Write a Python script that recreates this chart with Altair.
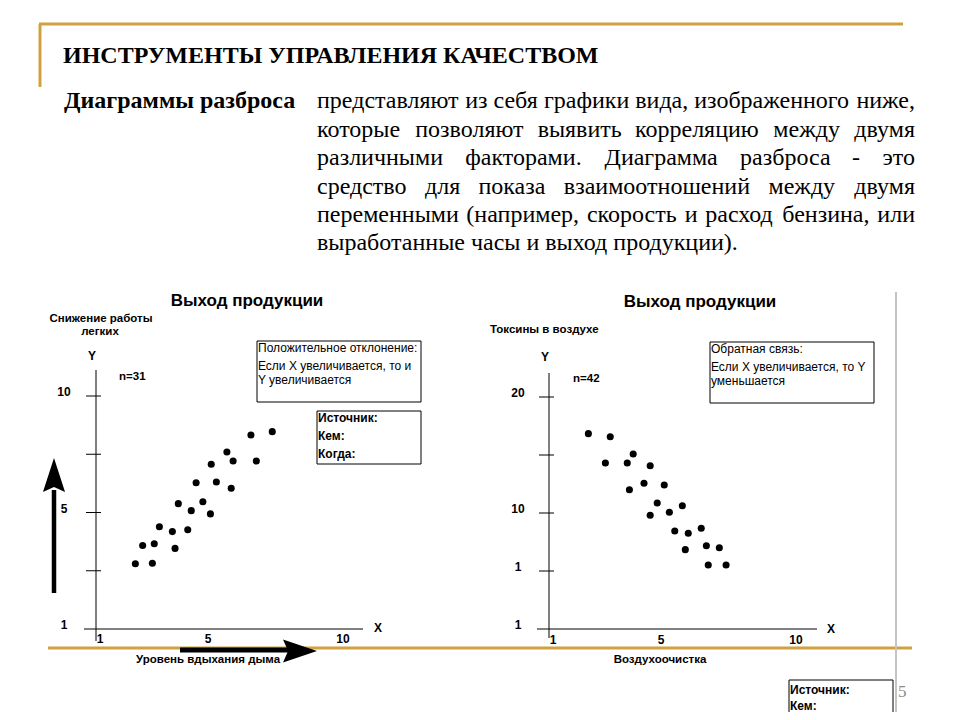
import glob
import os
import struct

import altair as alt
import pandas as pd

# ---------------- data ----------------
# Left scatter: "Уровень вдыхания дыма" (X) vs "Снижение работы легких" (Y)
left_x = [2.31, 2.58, 2.94, 3.01, 3.20, 3.68, 3.78, 3.90, 4.25, 4.38, 4.56,
          4.81, 5.09, 5.12, 5.31, 5.70, 5.86, 5.93, 6.59, 6.79, 7.38]
left_y = [2.80, 3.58, 2.82, 3.66, 4.39, 4.18, 3.46, 5.38, 4.26, 5.08, 6.28,
          5.46, 4.94, 7.07, 6.31, 7.60, 6.04, 7.21, 8.33, 7.21, 8.47]

# Right scatter: "Воздухоочистка" (X) vs "Токсины в воздухе" (Y)
right_x = [2.31, 3.12, 2.94, 3.75, 3.97, 4.60, 3.83, 4.37, 5.12, 4.86, 4.60,
           5.31, 5.79, 5.51, 6.01, 6.49, 5.90, 6.68, 7.16, 6.75, 7.41]
right_y = [16.84, 16.58, 14.31, 14.31, 15.09, 14.08, 12.01, 12.56, 12.41, 10.86, 9.80,
           10.06, 10.63, 8.45, 8.25, 8.68, 6.84, 7.18, 7.01, 5.52, 5.52]

left_ytick_values = [2.5, 5, 7.5, 10]
left_ylabel_values = [10, 5, 0]
left_ylabel_texts = ["10", "5", "1"]
right_ytick_values = [5, 10, 15, 20]
right_ylabel_values = [20, 10, 5, 0]
right_ylabel_texts = ["20", "10", "1", "1"]
xlabel_values = [1, 5, 10]
xlabel_texts = ["1", "5", "10"]

body_text_lines = [
    "представляют из себя графики вида, изображенного ниже,",
    "которые позволяют выявить корреляцию между двумя",
    "различными факторами. Диаграмма разброса - это",
    "средство для показа взаимоотношений между двумя",
    "переменными (например, скорость и расход бензина, или",
    "выработанные часы и выход продукции).",
]

# ---------------- font metrics (for justified paragraph) ----------------
BODY_SIZE = 24


def load_width_fn(pattern):
    paths = []
    for d in ["/usr/share/fonts", "/usr/local/share/fonts",
              os.path.expanduser("~/.fonts"), os.path.expanduser("~/.local/share/fonts")]:
        paths += glob.glob(os.path.join(d, "**", pattern), recursive=True)
    if not paths:
        return None
    try:
        data = open(paths[0], "rb").read()
        num_tables = struct.unpack(">H", data[4:6])[0]
        tables = {}
        for i in range(num_tables):
            off = 12 + 16 * i
            tag = data[off:off + 4].decode("latin1")
            _, toff, tlen = struct.unpack(">III", data[off + 4:off + 16])
            tables[tag] = toff
        head = tables["head"]
        upem = struct.unpack(">H", data[head + 18:head + 20])[0]
        hhea = tables["hhea"]
        num_hm = struct.unpack(">H", data[hhea + 34:hhea + 36])[0]
        hmtx = tables["hmtx"]
        adv = [struct.unpack(">H", data[hmtx + 4 * i:hmtx + 4 * i + 2])[0] for i in range(num_hm)]
        cmap = tables["cmap"]
        nsub = struct.unpack(">H", data[cmap + 2:cmap + 4])[0]
        cmap_d = {}
        for i in range(nsub):
            pid, eid, soff = struct.unpack(">HHI", data[cmap + 4 + 8 * i:cmap + 12 + 8 * i])
            sub = cmap + soff
            fmt = struct.unpack(">H", data[sub:sub + 2])[0]
            if fmt == 4 and pid == 3 and eid == 1:
                seg2 = struct.unpack(">H", data[sub + 6:sub + 8])[0]
                n = seg2 // 2
                ends = struct.unpack(">%dH" % n, data[sub + 14:sub + 14 + seg2])
                so = sub + 16 + seg2
                starts = struct.unpack(">%dH" % n, data[so:so + seg2])
                do = so + seg2
                deltas = struct.unpack(">%dh" % n, data[do:do + seg2])
                ro = do + seg2
                ros = struct.unpack(">%dH" % n, data[ro:ro + seg2])
                for s in range(n):
                    if starts[s] > 0x4FF:
                        continue
                    for c in range(starts[s], min(ends[s], 0x4FF) + 1):
                        if ros[s] == 0:
                            g = (c + deltas[s]) & 0xFFFF
                        else:
                            a = ro + 2 * s + ros[s] + 2 * (c - starts[s])
                            g = struct.unpack(">H", data[a:a + 2])[0]
                            if g:
                                g = (g + deltas[s]) & 0xFFFF
                        cmap_d[c] = g
                break
        if not cmap_d:
            return None

        def width(text, size):
            tot = 0
            for ch in text:
                g = cmap_d.get(ord(ch), 0)
                tot += adv[g] if g < num_hm else adv[-1]
            return tot * size / upem
        return width
    except Exception:
        return None


text_width = load_width_fn("LiberationSerif-Regular.ttf")
if text_width is None:
    def text_width(text, size):
        return len(text) * 0.46 * size

# ---------------- layout helpers ----------------
SANS = "Liberation Sans, Arial, sans-serif"
SERIF = "Liberation Serif, Times New Roman, DejaVu Serif, serif"
GOLD = "#CFA23F"
DUMMY = pd.DataFrame({"k": [0]})


def P(v):
    return v - 8


def T(s, x, y, size=11, weight="normal", font=SANS, align="left",
      baseline="middle", color="black"):
    return alt.Chart(DUMMY).mark_text(
        text=s, font=font, fontSize=size, fontWeight=weight, align=align,
        baseline=baseline, color=color
    ).encode(x=alt.value(P(x)), y=alt.value(P(y)))


def R(x1, y1, x2, y2, color="black", w=1):
    return alt.Chart(DUMMY).mark_rule(color=color, strokeWidth=w).encode(
        x=alt.value(P(x1)), x2=alt.value(P(x2)),
        y=alt.value(P(y1)), y2=alt.value(P(y2)))


def BOX(x1, y1, x2, y2):
    return alt.Chart(DUMMY).mark_rect(fill="white", stroke="black", strokeWidth=1).encode(
        x=alt.value(P(x1)), x2=alt.value(P(x2)),
        y=alt.value(P(y1)), y2=alt.value(P(y2)))


def HEAD(shape, x, y, size):
    return alt.Chart(DUMMY).mark_point(
        shape=shape, filled=True, fill="black", strokeWidth=0, size=size, opacity=1
    ).encode(x=alt.value(P(x)), y=alt.value(P(y)))


layers = []

# gold frame lines and grey side line
layers += [
    R(39, 24, 903, 24, GOLD, 3),
    R(40, 24, 40, 87, GOLD, 3),
    R(48, 648, 912, 648, GOLD, 3),
    R(896, 292, 896, 720, "#C4C4C4", 2),
]

# slide title and body text
layers.append(T("ИНСТРУМЕНТЫ УПРАВЛЕНИЯ КАЧЕСТВОМ", 63, 63, 24, "bold", SERIF,
                baseline="alphabetic"))
layers.append(T("Диаграммы разброса", 64, 108, 24, "bold", SERIF, baseline="alphabetic"))

LEFT_EDGE, RIGHT_EDGE = 317, 915
baselines = [108, 137, 165, 194, 222, 250]
for i, (line, base) in enumerate(zip(body_text_lines, baselines)):
    if i == len(body_text_lines) - 1:
        layers.append(T(line, LEFT_EDGE, base, BODY_SIZE, "normal", SERIF,
                        baseline="alphabetic"))
        continue
    words = line.split(" ")
    widths = [text_width(w, BODY_SIZE) for w in words]
    gap = (RIGHT_EDGE - LEFT_EDGE - sum(widths)) / (len(words) - 1)
    x = LEFT_EDGE
    for j, (w, wd) in enumerate(zip(words, widths)):
        if j == len(words) - 1:
            layers.append(T(w, RIGHT_EDGE, base, BODY_SIZE, "normal", SERIF,
                            align="right", baseline="alphabetic"))
        else:
            layers.append(T(w, x, base, BODY_SIZE, "normal", SERIF, baseline="alphabetic"))
        x += wd + gap

# ---------------- left chart decorations ----------------
layers += [
    T("Выход продукции", 247, 301, 17, "bold", align="center"),
    T("Снижение работы", 101, 319, 11.5, "bold", align="center"),
    T("легких", 100, 332, 11.5, "bold", align="center"),
    T("Y", 92, 356, 12, "bold", align="center"),
    T("n=31", 119, 377, 11.5, "bold"),
    BOX(257, 341, 421, 402),
    T("Положительное отклонение:", 258, 348, 12),
    T("Если X увеличивается, то и", 258, 366, 12),
    T("Y увеличивается", 258, 380, 12),
    BOX(317, 411, 421, 464),
    T("Источник:", 318, 418, 12, "bold"),
    T("Кем:", 318, 436, 12, "bold"),
    T("Когда:", 318, 454, 12, "bold"),
    R(96, 370, 96, 641),
    R(84, 629, 363, 629),
    T("X", 378, 628, 12, "bold", align="center"),
    T("Уровень вдыхания дыма", 208, 660, 11.5, "bold", align="center"),
    R(54, 490, 54, 593, "black", 4.5),
    HEAD("M0,-1L0.65,1L0,0.7L-0.65,1Z", 54, 475, 1156),
    R(180, 650, 290, 650, "black", 5),
    HEAD("M1,0L-1,0.68L-0.7,0L-1,-0.68Z", 300, 651, 1156),
]

# ---------------- right chart decorations ----------------
layers += [
    T("Выход продукции", 700, 302, 17, "bold", align="center"),
    T("Токсины в воздухе", 490, 330, 11.5, "bold"),
    T("Y", 545, 357, 12, "bold", align="center"),
    T("n=42", 573, 379, 11.5, "bold"),
    BOX(710, 342, 874, 403),
    T("Обратная связь:", 711, 349, 12),
    T("Если X увеличивается, то Y", 711, 367, 12),
    T("уменьшается", 711, 381, 12),
    R(549, 373, 549, 638),
    R(537, 629, 817, 629),
    T("X", 831, 629, 12, "bold", align="center"),
    T("Воздухоочистка", 660, 660, 11.5, "bold", align="center"),
    BOX(789, 680, 893, 740),
    T("Источник:", 790, 690, 12, "bold"),
    T("Кем:", 790, 706, 12, "bold"),
    T("Когда:", 790, 722, 12, "bold"),
    T("5", 898, 692, 17, "normal", SERIF, color="#8C8C8C"),
]

# ---------------- scales ----------------
def sc(domain, rng):
    return alt.Scale(domain=domain, range=rng, nice=False, zero=False)


LX = [1, 10], [P(100), P(343)]
LY = [0, 10], [P(629), P(396)]
RX = [1, 10], [P(553), P(796)]
RY = [0, 20], [P(629), P(397)]


def ticks(values, scale, x1, x2):
    df = pd.DataFrame({"v": values})
    return alt.Chart(df).mark_rule(color="black", strokeWidth=1).encode(
        y=alt.Y("v:Q", scale=sc(*scale), axis=None),
        x=alt.value(P(x1)), x2=alt.value(P(x2)))


def ylabels(values, texts, scale, x):
    df = pd.DataFrame({"v": values, "t": texts})
    return alt.Chart(df).mark_text(font=SANS, fontSize=12, fontWeight="bold",
                                   align="center", baseline="middle", dy=-4).encode(
        y=alt.Y("v:Q", scale=sc(*scale), axis=None),
        x=alt.value(P(x)), text="t:N")


def xlabels(values, texts, scale, y):
    df = pd.DataFrame({"v": values, "t": texts})
    return alt.Chart(df).mark_text(font=SANS, fontSize=12, fontWeight="bold",
                                   align="center", baseline="middle").encode(
        x=alt.X("v:Q", scale=sc(*scale), axis=None),
        y=alt.value(P(y)), text="t:N")


def points(xs, ys, xscale, yscale):
    df = pd.DataFrame({"x": xs, "y": ys})
    return alt.Chart(df).mark_circle(size=50, color="black", opacity=1).encode(
        x=alt.X("x:Q", scale=sc(*xscale), axis=None),
        y=alt.Y("y:Q", scale=sc(*yscale), axis=None))


layers += [
    ticks(left_ytick_values, LY, 86, 101),
    ylabels(left_ylabel_values, left_ylabel_texts, LY, 64),
    xlabels(xlabel_values, xlabel_texts, LX, 639),
    points(left_x, left_y, LX, LY),
    ticks(right_ytick_values, RY, 539, 554),
    ylabels(right_ylabel_values, right_ylabel_texts, RY, 518),
    xlabels(xlabel_values, xlabel_texts, RX, 640),
    points(right_x, right_y, RX, RY),
]

chart = alt.layer(*layers).resolve_scale(
    x="independent", y="independent"
).properties(
    width=944, height=704, padding=0, autosize="none"
).configure_view(strokeWidth=0)

chart.save("out.html", embed_options={"renderer": "svg", "actions": False})
